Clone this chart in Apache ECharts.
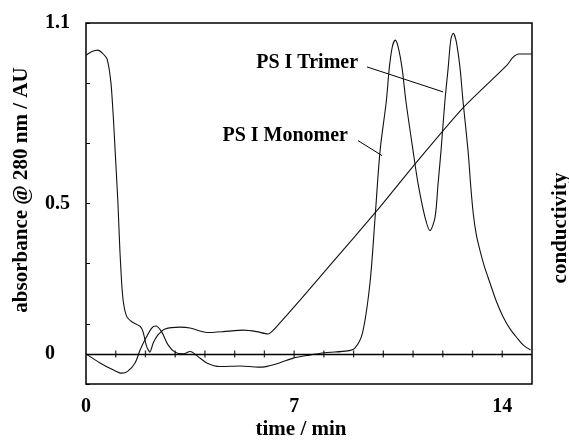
<!DOCTYPE html>
<html>
<head>
<meta charset="utf-8">
<script src="https://cdn.jsdelivr.net/npm/echarts@6/dist/echarts.min.js"></script>
<style>html,body{margin:0;padding:0;background:#fff}#c{width:569px;height:444px}</style>
</head>
<body>
<div id="c"></div>
<script>
// ---- data ----
const uvTime = [0, 0.47, 0.91, 1.2, 1.4, 1.65, 1.82, 1.98, 2.21, 2.35, 2.54, 2.76, 2.99, 3.26, 3.5, 3.77, 4.06, 4.5, 5.18, 5.8, 6.0, 6.5, 6.97, 7.5, 8.04, 8.8, 9.05, 9.3, 9.55, 9.72, 9.89, 10.1, 10.2, 10.3, 10.4, 10.5, 10.63, 10.76, 11.0, 11.17, 11.4, 11.57, 11.74, 11.84, 11.94, 12.07, 12.18, 12.27, 12.35, 12.45, 12.58, 12.68, 12.85, 12.93, 13.02, 13.12, 13.25, 13.4, 13.59, 13.8, 14.03, 14.25, 14.5, 14.7, 14.95];
const uvAbs  = [0, -0.03, -0.053, -0.064, -0.058, -0.03, 0.013, 0.046, 0.086, 0.093, 0.074, 0.03, 0.006, 0, 0.008, -0.009, -0.03, -0.042, -0.04, -0.044, -0.043, -0.03, -0.014, -0.004, 0.004, 0.01, 0.02, 0.07, 0.235, 0.45, 0.675, 0.84, 0.95, 1.02, 1.043, 1.02, 0.95, 0.84, 0.675, 0.565, 0.455, 0.41, 0.455, 0.565, 0.675, 0.84, 0.95, 1.045, 1.066, 1.04, 0.95, 0.84, 0.675, 0.57, 0.47, 0.4, 0.344, 0.29, 0.235, 0.175, 0.123, 0.085, 0.053, 0.03, 0.013];
const condTime = [0, 0.2, 0.4, 0.55, 0.71, 0.84, 0.92, 0.98, 1.07, 1.14, 1.2, 1.26, 1.37, 1.54, 1.82, 1.92, 2.04, 2.15, 2.26, 2.42, 2.66, 3.16, 3.5, 4.06, 4.62, 5.29, 5.74, 6.12, 6.53, 7.2, 8.21, 9.79, 11.07, 12.68, 14.16, 14.35, 14.55, 15.0];
const condVal  = [0.993, 1.005, 1.01, 1.0, 0.98, 0.9, 0.785, 0.675, 0.51, 0.344, 0.235, 0.17, 0.124, 0.107, 0.092, 0.073, 0.024, 0.006, 0.036, 0.063, 0.083, 0.089, 0.086, 0.071, 0.074, 0.079, 0.074, 0.066, 0.104, 0.179, 0.295, 0.477, 0.632, 0.818, 0.96, 0.985, 0.997, 0.997];
const baselineTicks = [1, 2, 3, 4, 5, 6, 7, 8, 9, 10, 11, 12, 13, 14];
const xTickLabels = [0, 7, 14];
const yTickLabels = ['0', '0.5', '1.1'];
const xTitle = 'time / min';
const yTitle = 'absorbance @ 280 nm / AU';
const rightTitle = 'conductivity';
const annTrimer = 'PS I Trimer';
const annMonomer = 'PS I Monomer';

const FONT = "'Liberation Serif','Times New Roman',serif";
const chart = echarts.init(document.getElementById('c'), null, {renderer: 'canvas'});

const zip = (a, b) => a.map((t, i) => [t, b[i]]);
const near = (v, s) => Math.abs(v - parseFloat(s)) < 1e-6;

chart.setOption({
  animation: false,
  backgroundColor: '#fff',
  grid: {left: 86, right: 37, top: 23, bottom: 60, show: true, borderColor: '#000', borderWidth: 1.5, backgroundColor: 'transparent'},
  xAxis: {
    type: 'value', min: 0, max: 15, interval: 1,
    axisLine: {show: false, onZero: false}, axisTick: {show: false}, splitLine: {show: false},
    axisLabel: {margin: 13, fontFamily: FONT, fontWeight: 'bold', fontSize: 20, color: '#000',
      formatter: v => xTickLabels.some(x => near(v, x)) ? String(Math.round(v)) : ''}
  },
  yAxis: [
    {type: 'value', min: -0.1, max: 1.1, interval: 0.1,
     axisLine: {show: false, onZero: false}, axisTick: {show: false}, splitLine: {show: false},
     axisLabel: {margin: 41, align: 'left', padding: [11, 0, 0, 0], fontFamily: FONT, fontWeight: 'bold', fontSize: 20, color: '#000',
       formatter: v => { const s = yTickLabels.find(l => near(v, l)); return s === undefined ? '' : s; }}},
    {type: 'value', min: -0.1, max: 1.1, interval: 0.2, position: 'left',
     axisLine: {show: false, onZero: false}, axisTick: {show: true, inside: true, length: 4, lineStyle: {color: '#000', width: 1}},
     splitLine: {show: false}, axisLabel: {show: false}}
  ],
  series: [
    {type: 'line', name: 'absorbance', data: zip(uvTime, uvAbs), smooth: 0.3, showSymbol: false,
     lineStyle: {color: '#111', width: 1.1}, z: 3},
    {type: 'line', name: 'conductivity', data: zip(condTime, condVal), smooth: 0.2, showSymbol: false,
     lineStyle: {color: '#111', width: 1.1}, z: 3},
    {type: 'scatter', name: 'baseline ticks', data: baselineTicks.map(t => [t, 0]), symbol: 'rect', symbolSize: [1.3, 7],
     itemStyle: {color: '#000'}, silent: true, z: 4,
     markLine: {silent: true, symbol: 'none', label: {show: false}, lineStyle: {color: '#000', type: 'solid', width: 1.3},
       data: [{yAxis: 0}]}}
  ]
});

const P = (t, v) => chart.convertToPixel({xAxisIndex: 0, yAxisIndex: 0}, [t, v]);
const a1 = P(9.15, 0.967), l1a = P(9.45, 0.954), l1b = P(12.01, 0.871);
const a2 = P(8.81, 0.725), l2a = P(9.15, 0.709), l2b = P(9.96, 0.659);
const txt = (x, y, s) => ({type: 'text', x: x, y: y, style: {text: s, fill: '#000', font: "bold 20px " + FONT, textAlign: 'right', textVerticalAlign: 'middle'}});
chart.setOption({
  graphic: [
    txt(a1[0], a1[1], annTrimer),
    txt(a2[0], a2[1], annMonomer),
    {type: 'line', shape: {x1: l1a[0], y1: l1a[1], x2: l1b[0], y2: l1b[1]}, style: {stroke: '#000', lineWidth: 1}},
    {type: 'line', shape: {x1: l2a[0], y1: l2a[1], x2: l2b[0], y2: l2b[1]}, style: {stroke: '#000', lineWidth: 1}},
    {type: 'text', x: 301, y: 430, style: {text: xTitle, fill: '#000', font: "bold 21px " + FONT, textAlign: 'center', textVerticalAlign: 'middle'}},
    {type: 'text', x: 22, y: 190, rotation: Math.PI / 2, style: {text: yTitle, fill: '#000', font: "bold 21px " + FONT, textAlign: 'center', textVerticalAlign: 'middle'}},
    {type: 'text', x: 561, y: 228, rotation: Math.PI / 2, style: {text: rightTitle, fill: '#000', font: "bold 21px " + FONT, textAlign: 'center', textVerticalAlign: 'middle'}}
  ]
});
</script>
</body>
</html>
